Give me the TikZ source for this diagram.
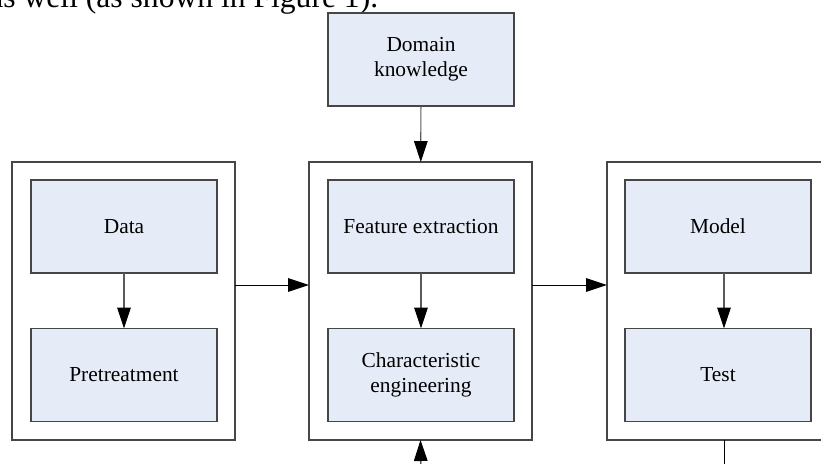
\documentclass[tikz,border=0pt]{standalone}
\usepackage{fontspec}
\setmainfont{Liberation Serif}
\definecolor{boxfill}{RGB}{230,236,247}
\definecolor{boxline}{RGB}{70,70,70}
\definecolor{shaft}{RGB}{90,90,90}
\usepackage{tikz}
\usetikzlibrary{arrows.meta,calc}

\begin{document}
\begin{tikzpicture}[x=0.5pt,y=-0.5pt,
      o/.style={draw=boxline,fill=white,line width=0.6pt,inner sep=0pt,outer sep=0pt,
                minimum width=111.5pt,minimum height=139pt},
      b/.style={draw=boxline,fill=boxfill,line width=0.6pt,inner sep=0pt,outer sep=0pt,
                minimum width=93pt,minimum height=46.5pt,align=center,
                font=\fontsize{10.7}{12.4}\selectfont},
      a/.style={-{Triangle[length=10.5pt,width=6.8pt,color=black]},color=shaft,line width=0.6pt},
      c/.style={-{Triangle[length=10.5pt,width=6.8pt]},color=black,line width=0.5pt}]
      \useasboundingbox (0,0) rectangle (821,463);
      \node[anchor=base west,font=\fontsize{15.8}{18}\selectfont,inner sep=0pt] (tx) at (-11,7) {as well (as shown in Figure 1).};
      \node[o] (lo) at (123.5,301) {};
      \node[o] (mo) at (420.5,301) {};
      \node[o] (ro) at (718.5,301) {};
      \node[b] (dk) at (421,59.5) {Domain\\knowledge};
      \node[b] (da) at (124,226.5) {Data};
      \node[b] (pt) at (124,375) {Pretreatment};
      \node[b] (fe) at (421,226.5) {Feature extraction};
      \node[b] (ce) at (421,375) {Characteristic\\engineering};
      \node[b] (md) at (718,226.5) {Model};
      \node[b] (ts) at (718,375) {Test};
      \coordinate (bt) at (421,480);
      \coordinate (ex) at (724,480);
      \draw[a] (da) -- (pt);
      \draw[a] (fe) -- (ce);
      \draw[a] ($(md.south)+(6,0)$) -- ($(ts.north)+(6,0)$);
      \draw[a] (dk) -- (mo);
      \draw[c] ($(lo.east)+(0,-16)$) -- ($(mo.west)+(0,-16)$);
      \draw[c] ($(mo.east)+(0,-16)$) -- ($(ro.west)+(0,-16)$);
      \draw[c] (bt) -- (mo.south);
      \draw[color=black,line width=0.5pt] ($(ro.south)+(5.5,0)$) -- (ex);
    \end{tikzpicture}
\end{document}
